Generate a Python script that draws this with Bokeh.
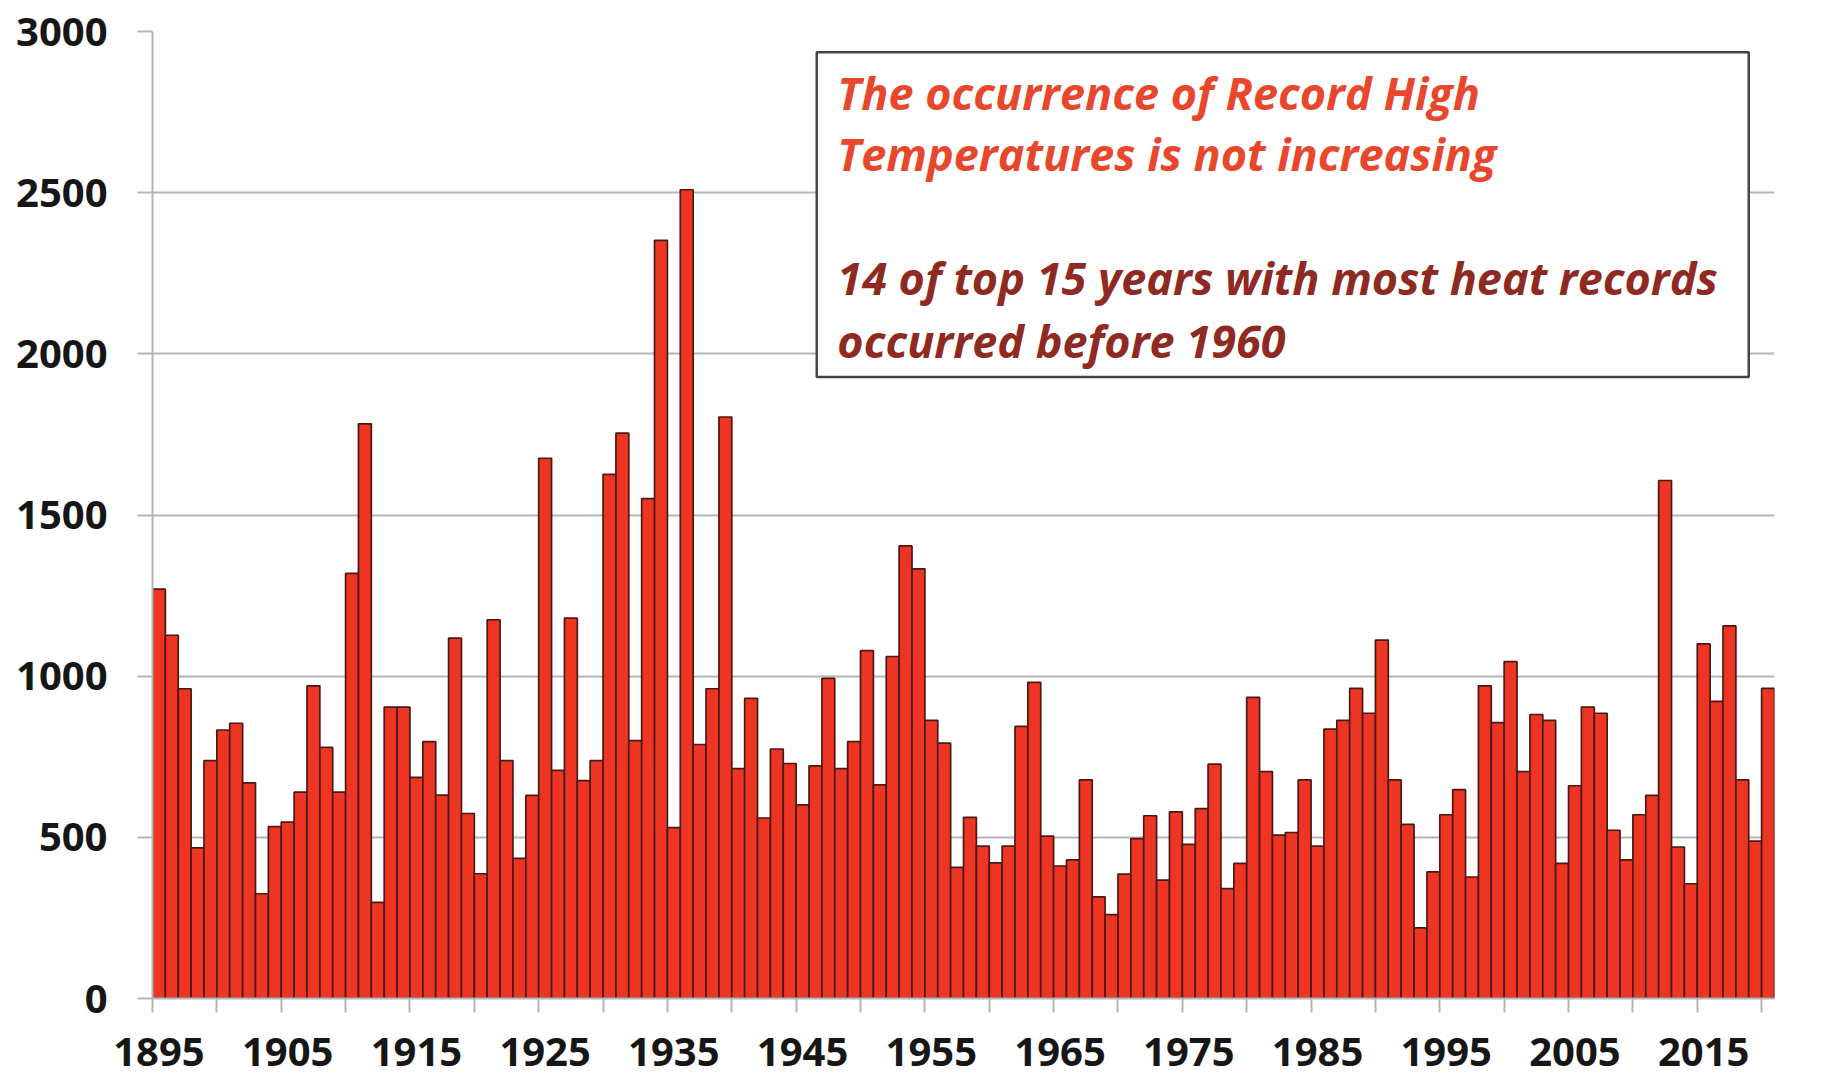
from bokeh.plotting import figure
from bokeh.models import Range1d, FixedTicker, BoxAnnotation, Label
from bokeh.embed import file_html
from bokeh.resources import INLINE

# ---- data ----
years = list(range(1895, 2021))
records = [
    1270, 1127, 961, 467, 738, 833, 854, 669, 325, 533,      # 1895-1904
    547, 640, 970, 779, 640, 1319, 1783, 298, 904, 904,      # 1905-1914
    686, 797, 631, 1118, 574, 387, 1175, 738, 435, 630,      # 1915-1924
    1676, 708, 1180, 676, 738, 1626, 1754, 800, 1551, 2352,  # 1925-1934
    530, 2509, 788, 961, 1804, 713, 931, 560, 774, 729,      # 1935-1944
    601, 722, 993, 713, 797, 1079, 663, 1061, 1404, 1333,    # 1945-1954
    863, 792, 407, 562, 473, 421, 473, 844, 981, 504,        # 1955-1964
    411, 430, 678, 315, 260, 386, 496, 567, 367, 579,        # 1965-1974
    478, 589, 727, 341, 419, 934, 704, 507, 515, 678,        # 1975-1984
    473, 836, 863, 962, 885, 1112, 678, 540, 219, 393,       # 1985-1994
    570, 648, 377, 970, 856, 1045, 704, 881, 863, 419,       # 1995-2004
    660, 904, 885, 522, 430, 570, 630, 1607, 470, 356,       # 2005-2014
    1100, 922, 1156, 678, 488, 962,                          # 2015-2020
]
y_ticks = [0, 500, 1000, 1500, 2000, 2500, 3000]
label_years = years[::10]
note_lines = [
    "The occurrence of Record High",
    "Temperatures is not increasing",
    "14 of top 15 years with most heat records",
    "occurred before 1960",
]

FONT = "Open Sans"
GRID = "#b5b5b5"

p = figure(
    width=1827, height=1079,
    x_range=Range1d(years[0] - 0.5, years[-1] + 0.5),
    y_range=Range1d(0, 3000),
    output_backend="svg", toolbar_location=None,
    min_border_left=152, min_border_right=53, min_border_top=31, min_border_bottom=81,
    background_fill_color="white", border_fill_color="white",
)
p.outline_line_color = None

p.vbar(x=years, top=records, width=1.0, bottom=0,
       fill_color="#EE3524", line_color="#4A1A12", line_width=1.7)

# y axis
p.yaxis.ticker = FixedTicker(ticks=y_ticks)
p.yaxis.axis_line_color = GRID
p.yaxis.axis_line_width = 2
p.yaxis.major_tick_line_color = GRID
p.yaxis.major_tick_line_width = 2
p.yaxis.major_tick_out = 15
p.yaxis.major_tick_in = 0
p.yaxis.minor_tick_line_color = None
p.yaxis.major_label_standoff = 30
p.yaxis.major_label_text_font = FONT
p.yaxis.major_label_text_font_style = "bold"
p.yaxis.major_label_text_font_size = "40px"
p.yaxis.major_label_text_color = "#161616"

# x axis: labels every 10 years, ticks between categories every 5
p.xaxis.ticker = FixedTicker(ticks=label_years,
                             minor_ticks=[y - 0.5 for y in years[::5]])
p.xaxis.axis_line_color = GRID
p.xaxis.axis_line_width = 2
p.xaxis.major_tick_line_color = None
p.xaxis.major_tick_out = 13
p.xaxis.major_tick_in = 0
p.xaxis.minor_tick_line_color = GRID
p.xaxis.minor_tick_line_width = 2
p.xaxis.minor_tick_out = 14
p.xaxis.minor_tick_in = 0
p.xaxis.major_label_standoff = 25
p.xaxis.major_label_text_font = FONT
p.xaxis.major_label_text_font_style = "bold"
p.xaxis.major_label_text_font_size = "40px"
p.xaxis.major_label_text_color = "#161616"

p.xgrid.grid_line_color = None
p.ygrid.grid_line_color = GRID
p.ygrid.grid_line_width = 2

# annotation box
box = BoxAnnotation(left=1946.1, right=2018.5, bottom=1928, top=2936,
                    fill_color="white", fill_alpha=1.0,
                    line_color="#444444", line_alpha=1.0, line_width=2.5)
p.add_layout(box)

note_y = [2810, 2620, 2238, 2042]
note_colors = ["#E8472B", "#E8472B", "#8E2A22", "#8E2A22"]
for txt, yy, col in zip(note_lines, note_y, note_colors):
    p.add_layout(Label(x=1947.7, y=yy, text=txt, text_font=FONT,
                       text_font_style="bold italic", text_font_size="45px",
                       text_color=col, text_baseline="alphabetic", text_align="left"))

open("out.html", "w").write(file_html(p, INLINE))
